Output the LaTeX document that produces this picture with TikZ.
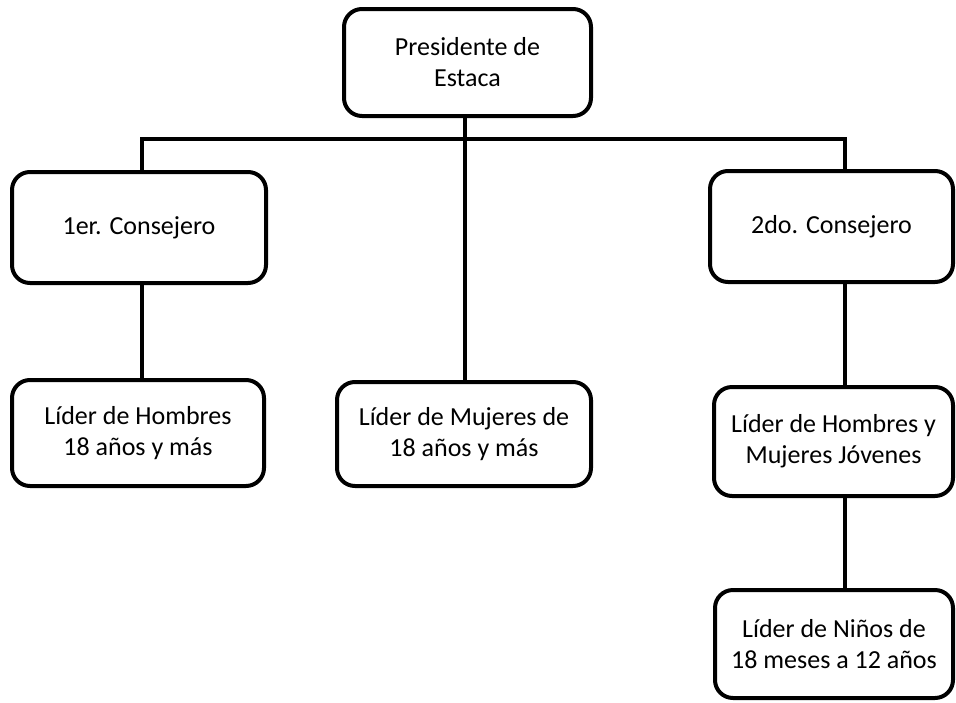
\documentclass[tikz,border=0pt]{standalone}
\usepackage{fontspec}
\setmainfont{Carlito}
\begin{document}
\begin{tikzpicture}[x=1pt,y=-1pt,
  box/.style={draw=black, line width=4pt, rounded corners=18pt, fill=white,
    align=center, inner sep=0pt, font=\fontsize{26}{31}\selectfont},
  conn/.style={draw=black, line width=4pt, line join=miter}]
\useasboundingbox (0,0) rectangle (956,702);
% junction points
\coordinate (jl) at (142,139);
\coordinate (jm) at (465,139);
\coordinate (jr) at (845,139);
% nodes (stroke-centre dimensions)
\node[box, minimum width=247pt, minimum height=107pt] (pres) at (467.5,62.5) {Presidente de\\Estaca};
\node[box, minimum width=254pt, minimum height=111pt] (c1) at (139,227.5) {1er. Consejero};
\node[box, minimum width=243pt, minimum height=111pt] (c2) at (831.5,226.5) {2do. Consejero};
\node[box, minimum width=252pt, minimum height=106pt] (lh) at (138,433) {Líder de Hombres\\18 años y más};
\node[box, minimum width=254pt, minimum height=104pt] (lm) at (464,434) {Líder de Mujeres de\\18 años y más};
\node[box, minimum width=239pt, minimum height=109pt] (jov) at (833.5,441.5) {Líder de Hombres y\\Mujeres Jóvenes};
\node[box, minimum width=238pt, minimum height=108pt] (nin) at (834,644) {Líder de Niños de\\18 meses a 12 años};
% connectors
\draw[conn] (jm |- pres.south) -- (jm |- lm.north);
\draw[conn] (jl |- c1.north) -- (jl) -- (jr) -- (jr |- c2.north);
\draw[conn] (jl |- c1.south) -- (jl |- lh.north);
\draw[conn] (jr |- c2.south) -- (jr |- jov.north);
\draw[conn] (jr |- jov.south) -- (jr |- nin.north);
\end{tikzpicture}
\end{document}
